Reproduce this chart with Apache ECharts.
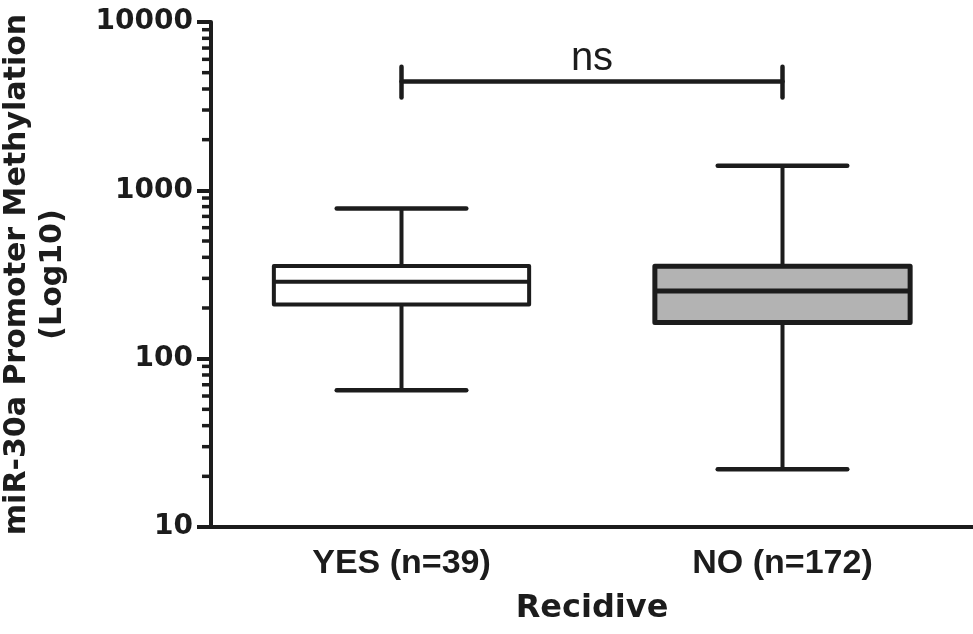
<!DOCTYPE html>
<html>
<head>
<meta charset="utf-8">
<script src="https://cdn.jsdelivr.net/npm/echarts@6/dist/echarts.min.js"></script>
<style>
  html, body { margin: 0; padding: 0; background: #fff; }
  #chart { width: 973px; height: 634px; }
</style>
</head>
<body>
<div id="chart"></div>
<script>
// groups on the x axis
var categories = ['YES (n=39)', 'NO (n=172)'];
// box plot values (min / q1 / median / q3 / max)
var whiskerLow = [65, 22];
var q1 = [210, 164];
var median = [286, 252];
var q3 = [355, 354];
var whiskerHigh = [781, 1398];
// y axis
var yTicks = [10, 100, 1000, 10000];
var minorTicks = [20, 30, 40, 50, 60, 70, 80, 90,
  200, 300, 400, 500, 600, 700, 800, 900,
  2000, 3000, 4000, 5000, 6000, 7000, 8000, 9000];
// significance bracket between the two groups
var bracketLevel = 4430;
var bracketTickLow = 3560;
var bracketTickHigh = 5420;
var bracketLabel = 'ns';

var ink = '#1c1c1c';
var fills = ['#ffffff', '#b3b3b3'];
var borderW = [4, 5];

var boxData = categories.map(function (c, i) {
  return [i, whiskerLow[i], q1[i], median[i], q3[i], whiskerHigh[i]];
});

function bandOf(api, v) {
  return api.coord([1, v])[0] - api.coord([0, v])[0];
}

var chart = echarts.init(document.getElementById('chart'));

var option = {
  animation: false,
  grid: { left: 211, right: 0, top: 22, bottom: 107, containLabel: false, outerBoundsMode: 'none' },
  xAxis: {
    type: 'category',
    data: categories,
    boundaryGap: true,
    name: 'Recidive',
    nameLocation: 'middle',
    nameGap: 66,
    nameTextStyle: { fontFamily: 'DejaVu Sans', fontWeight: 'bold', fontSize: 32, color: ink },
    axisLine: { lineStyle: { color: ink, width: 4 } },
    axisTick: { alignWithLabel: true, length: 16, lineStyle: { color: ink, width: 4 } },
    axisLabel: { fontFamily: 'Liberation Sans', fontWeight: 'bold', fontSize: 34, color: ink, margin: 20 },
    splitLine: { show: false }
  },
  yAxis: {
    type: 'log',
    logBase: 10,
    min: yTicks[0],
    max: yTicks[yTicks.length - 1],
    name: 'miR-30a Promoter Methylation\n(Log10)',
    nameLocation: 'middle',
    nameGap: 140,
    nameTextStyle: { fontFamily: 'DejaVu Sans', fontWeight: 'bold', fontSize: 30, lineHeight: 36, color: ink, align: 'center' },
    axisLine: { show: true, lineStyle: { color: ink, width: 4 } },
    axisTick: { show: true, length: 14, lineStyle: { color: ink, width: 4 } },
    axisLabel: {
      fontFamily: 'DejaVu Sans', fontWeight: 'bold', fontSize: 28, color: ink, margin: 18,
      formatter: function (v) { return String(Math.round(v)); }
    },
    splitLine: { show: false }
  },
  series: [
    {
      // boxes with half-width whisker caps
      type: 'custom',
      data: boxData,
      encode: { x: 0, y: [1, 2, 3, 4, 5] },
      renderItem: function (params, api) {
        var i = api.value(0);
        var band = bandOf(api, 100);
        var pLow = api.coord([i, api.value(1)]);
        var pQ1 = api.coord([i, api.value(2)]);
        var pMed = api.coord([i, api.value(3)]);
        var pQ3 = api.coord([i, api.value(4)]);
        var pHigh = api.coord([i, api.value(5)]);
        var cx = pMed[0];
        var boxHalf = band * 0.335;
        var capHalf = band * 0.17;
        var bw = borderW[i];
        var line = function (x1, y1, x2, y2, w, cap) {
          return {
            type: 'line',
            shape: { x1: x1, y1: y1, x2: x2, y2: y2 },
            style: { stroke: ink, lineWidth: w, lineCap: cap || 'butt' }
          };
        };
        return {
          type: 'group',
          children: [
            line(cx, pHigh[1], cx, pQ3[1], 4),
            line(cx, pQ1[1], cx, pLow[1], 4),
            line(cx - capHalf, pHigh[1], cx + capHalf, pHigh[1], 4.5, 'round'),
            line(cx - capHalf, pLow[1], cx + capHalf, pLow[1], 4.5, 'round'),
            {
              type: 'rect',
              shape: { x: cx - boxHalf, y: pQ3[1], width: boxHalf * 2, height: pQ1[1] - pQ3[1] },
              style: { fill: fills[i], stroke: ink, lineWidth: bw, lineJoin: 'round' }
            },
            line(cx - boxHalf, pMed[1], cx + boxHalf, pMed[1], bw)
          ]
        };
      },
      z: 3
    },
    {
      // log minor ticks at 2..9 of each decade
      type: 'custom',
      data: minorTicks.map(function (v) { return [0, v]; }),
      encode: { x: 0, y: 1 },
      clip: false,
      renderItem: function (params, api) {
        var v = api.value(1);
        var p = api.coord([0, v]);
        var left = p[0] - bandOf(api, v) / 2;
        return {
          type: 'line',
          shape: { x1: left - 9, y1: p[1], x2: left, y2: p[1] },
          style: { stroke: ink, lineWidth: 3.5 }
        };
      },
      z: 4
    },
    {
      // significance bracket
      type: 'custom',
      data: [[0, bracketLevel, bracketTickLow, bracketTickHigh]],
      encode: { x: 0, y: [1, 2, 3] },
      clip: false,
      renderItem: function (params, api) {
        var a = api.coord([0, api.value(1)]);
        var b = api.coord([1, api.value(1)]);
        var lo = api.coord([0, api.value(2)])[1];
        var hi = api.coord([0, api.value(3)])[1];
        var st = { stroke: ink, lineWidth: 4.5, lineCap: 'round' };
        return {
          type: 'group',
          children: [
            { type: 'line', shape: { x1: a[0], y1: a[1], x2: b[0], y2: b[1] }, style: st },
            { type: 'line', shape: { x1: a[0], y1: hi, x2: a[0], y2: lo }, style: st },
            { type: 'line', shape: { x1: b[0], y1: hi, x2: b[0], y2: lo }, style: st },
            {
              type: 'text',
              x: (a[0] + b[0]) / 2,
              y: a[1] - 3,
              style: {
                text: bracketLabel, fill: ink, fontFamily: 'Liberation Sans', fontSize: 40,
                align: 'center', verticalAlign: 'bottom'
              }
            }
          ]
        };
      },
      z: 4
    }
  ]
};

chart.setOption(option);
</script>
</body>
</html>
